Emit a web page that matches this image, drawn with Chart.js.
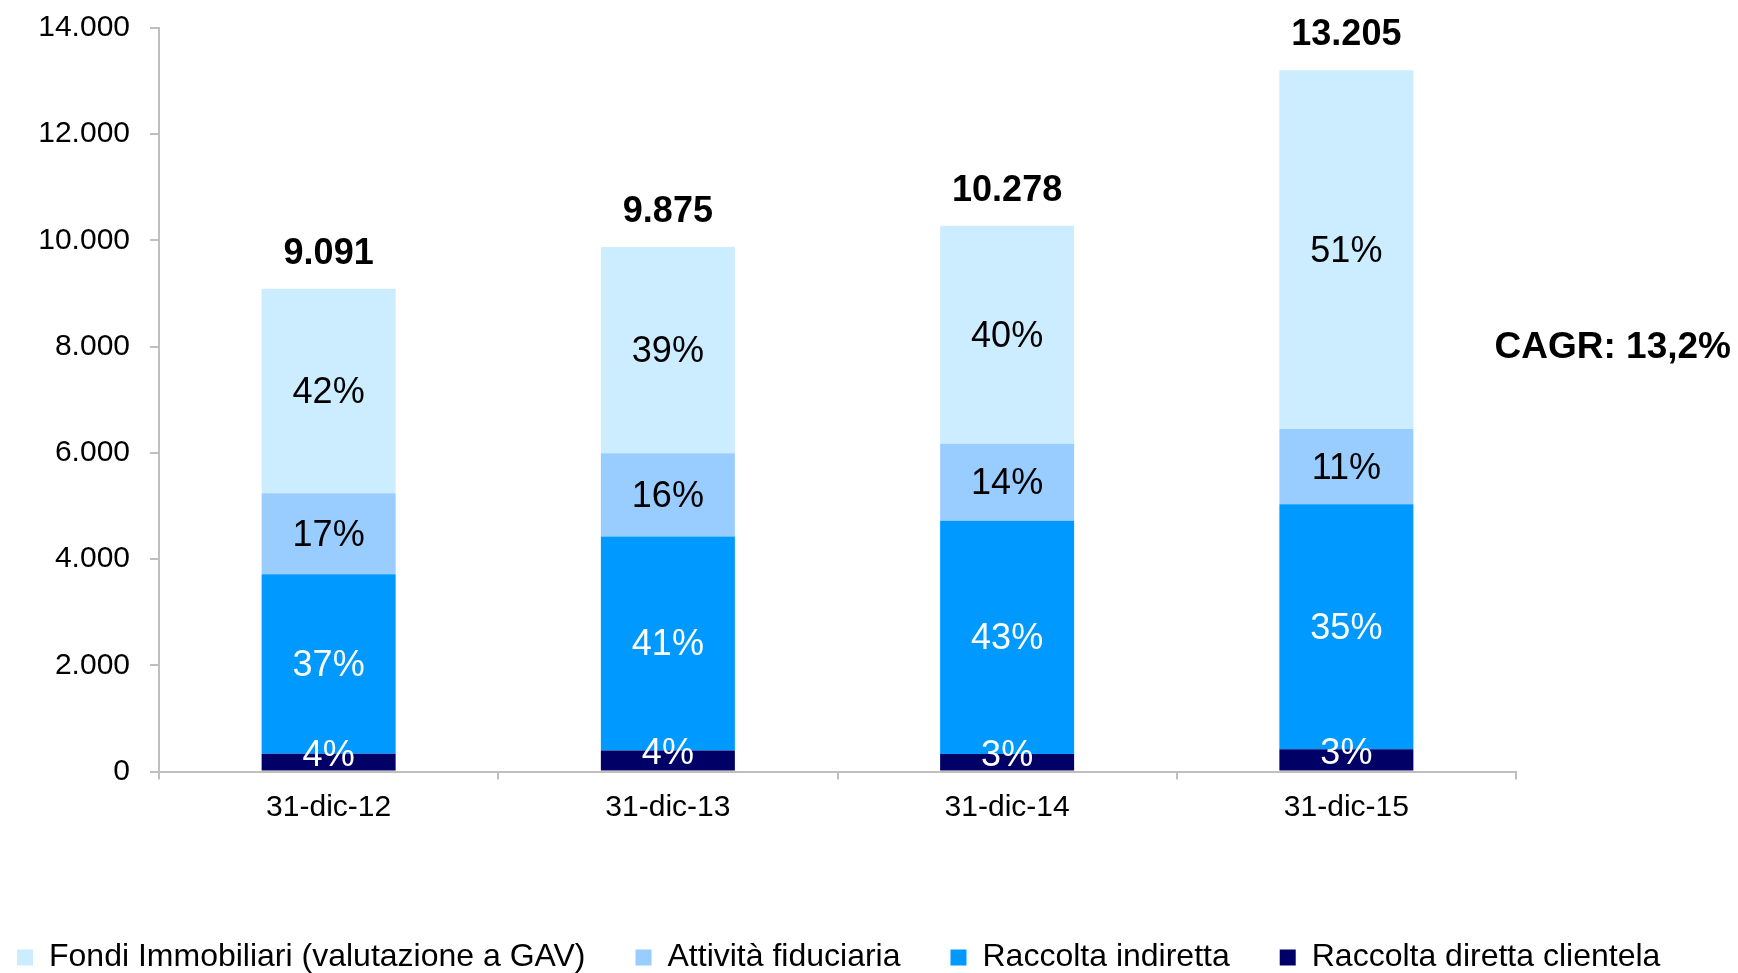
<!DOCTYPE html>
<html>
<head>
<meta charset="utf-8">
<script src="https://cdn.jsdelivr.net/npm/chart.js@4.4.1/dist/chart.umd.min.js"></script>
<style>
  html, body { margin: 0; padding: 0; background: #fff; overflow: hidden; }
  #wrap { width: 1738px; height: 973px; position: relative; }
</style>
</head>
<body>
<div id="wrap"><canvas id="chart"></canvas></div>
<script>
// dati (milioni di euro)
const categories = ['31-dic-12', '31-dic-13', '31-dic-14', '31-dic-15'];
const raccoltaDiretta = [335, 397, 330, 418];
const raccoltaIndiretta = [3380, 4028, 4390, 4612];
const attivitaFiduciaria = [1526, 1567, 1450, 1419];
const fondiImmobiliari = [3850, 3883, 4108, 6756];
const yTickStep = 2000;
const yMax = 14000;
const cagrText = 'CAGR: 13,2%';
const cagrLevel = 7980;

const fmt = n => String(Math.round(n)).replace(/\B(?=(\d{3})+(?!\d))/g, '.');

const totals = categories.map((c, i) =>
    raccoltaDiretta[i] + raccoltaIndiretta[i] + attivitaFiduciaria[i] + fondiImmobiliari[i]);

Chart.defaults.font.family = '"Liberation Sans", Arial, sans-serif';
Chart.defaults.color = '#000';

const labelsPlugin = {
    id: 'barLabels',
    afterDatasetsDraw(chart) {
        const ctx = chart.ctx;
        ctx.save();
        ctx.textAlign = 'center';
        ctx.textBaseline = 'middle';
        ctx.font = '36px "Liberation Sans", Arial, sans-serif';
        chart.data.datasets.forEach((ds, di) => {
            const meta = chart.getDatasetMeta(di);
            meta.data.forEach((bar, i) => {
                const pct = Math.round(ds.data[i] / totals[i] * 100) + '%';
                const shift = di === 0 ? -6 : 2;
                ctx.fillStyle = ds.labelColor;
                ctx.fillText(pct, bar.x, (bar.y + bar.base) / 2 + shift);
            });
        });

        // totali sopra le barre
        const top = chart.getDatasetMeta(chart.data.datasets.length - 1);
        ctx.font = 'bold 36px "Liberation Sans", Arial, sans-serif';
        ctx.textBaseline = 'alphabetic';
        ctx.fillStyle = '#000';
        top.data.forEach((bar, i) => {
            ctx.fillText(fmt(totals[i]), bar.x, bar.y - 25);
        });

        // CAGR
        ctx.font = 'bold 37px "Liberation Sans", Arial, sans-serif';
        ctx.textAlign = 'right';
        ctx.textBaseline = 'middle';
        ctx.fillText(cagrText, chart.width - 7, chart.scales.y.getPixelForValue(cagrLevel));
        ctx.restore();
    }
};

const ctx = document.getElementById('chart').getContext('2d');
const myChart = new Chart(ctx, {
    type: 'bar',
    data: {
        labels: categories,
        datasets: [
            { label: 'Raccolta diretta clientela', data: raccoltaDiretta, backgroundColor: '#000066', labelColor: '#fff' },
            { label: 'Raccolta indiretta', data: raccoltaIndiretta, backgroundColor: '#0099FF', labelColor: '#fff' },
            { label: 'Attività fiduciaria', data: attivitaFiduciaria, backgroundColor: '#99CCFF', labelColor: '#000' },
            { label: 'Fondi Immobiliari (valutazione a GAV)', data: fondiImmobiliari, backgroundColor: '#CCECFF', labelColor: '#000' },
        ],
    },
    options: {
        responsive: true,
        maintainAspectRatio: false,
        animation: false,
        datasets: {
            bar: { borderWidth: 0, barPercentage: 0.395, categoryPercentage: 1 },
        },
        layout: {
            padding: { left: -33, right: 0, top: 28, bottom: -10.5 },
        },
        plugins: {
            tooltip: { enabled: false },
            legend: {
                position: 'bottom',
                align: 'start',
                reverse: true,
                labels: {
                    boxWidth: 16,
                    boxHeight: 16,
                    padding: 50,
                    color: '#000',
                    font: { size: 32 },
                },
            },
        },
        scales: {
            x: {
                stacked: true,
                grid: { offset: true, drawOnChartArea: false, tickLength: 8, color: '#bfbfbf', lineWidth: 2 },
                border: { color: '#bfbfbf', width: 2 },
                ticks: { padding: 10, font: { size: 30 }, maxRotation: 0 },
                afterFit(s) { s.height = 120; },
            },
            y: {
                stacked: true,
                min: 0,
                max: yMax,
                grid: { drawOnChartArea: false, tickLength: 9, color: '#bfbfbf', lineWidth: 2 },
                border: { color: '#bfbfbf', width: 2 },
                ticks: {
                    stepSize: yTickStep,
                    padding: 20,
                    font: { size: 30 },
                    callback: v => fmt(v),
                },
                afterFit(s) { s.width = 192; s.paddingTop = 0; s.paddingBottom = 0; },
            },
            yR: {
                position: 'right',
                display: true,
                grid: { display: false },
                border: { display: false },
                ticks: { display: false },
                afterFit(s) { s.width = 222; s.paddingTop = 0; s.paddingBottom = 0; },
            },
        },
    },
    plugins: [labelsPlugin],
});
</script>
</body>
</html>
